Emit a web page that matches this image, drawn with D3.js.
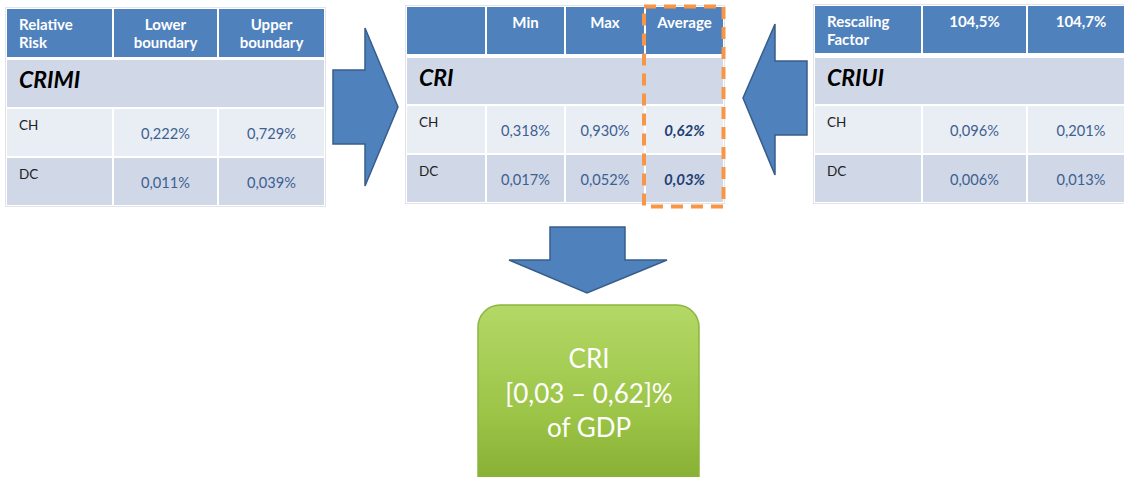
<!DOCTYPE html>
<html>
<head>
<meta charset="utf-8">
<script src="https://cdn.jsdelivr.net/npm/d3@7"></script>
<style>
  body { margin: 0; background: #fff; }
  svg { display: block; font-family: Lato, "Open Sans", sans-serif; }
</style>
</head>
<body>
<svg id="chart" width="1124" height="477"></svg>
<script>
// CRI scheme: two input tables feed a combined table, result box below

// row labels shared by the three tables
var rowLabels = ["CH", "DC"];

// CRIMI table (relative risk)
var crimiHeader = [["Relative", "Risk"], ["Lower", "boundary"], ["Upper", "boundary"]];
var crimiLower = [0.222, 0.011];
var crimiUpper = [0.729, 0.039];

// CRI table
var criHeader = [[""], ["Min"], ["Max"], ["Average"]];
var criMin = [0.318, 0.017];
var criMax = [0.930, 0.052];
var criAverage = [0.62, 0.03];

// CRIUI table (rescaling factor)
var criuiHeader = [["Rescaling", "Factor"], ["104,5%"], ["104,7%"]];
var criuiLow = [0.096, 0.006];
var criuiHigh = [0.201, 0.013];

// result box
var resultLines = ["CRI", "[0,03 \u2013 0,62]%", "of GDP"];

var locale = d3.formatLocale({decimal: ",", thousands: ".", grouping: [3], currency: ["", "\u20ac"]});
var f3 = locale.format(".3f"),
	f2 = locale.format(".2f");

var svg = d3.select("#chart");

var headBlue = "#4f81bd",
	rowDark = "#d0d8e8",
	rowLight = "#e9edf4",
	valueBlue = "#3d5f91",
	avgBlue = "#1f3f73";

// draws one table; cols = column widths, rows = row tops/heights
function drawTable(opt) {
	var g = svg.append("g");
	var xs = [opt.x];
	opt.cols.forEach(function(w, i) { xs.push(xs[i] + w + 2); });
	var width = xs[xs.length - 1] - 2 - opt.x;

	// faint outer frame
	g.append("rect")
		.attr("x", opt.x - 1.5).attr("y", opt.rows[0][0] - 1.5)
		.attr("width", width + 3)
		.attr("height", opt.rows[3][0] + opt.rows[3][1] - opt.rows[0][0] + 3)
		.attr("fill", "none").attr("stroke", "#e2e4e8").attr("stroke-width", 1);

	// header cells
	opt.cols.forEach(function(w, i) {
		g.append("rect")
			.attr("x", xs[i]).attr("y", opt.rows[0][0])
			.attr("width", w).attr("height", opt.rows[0][1])
			.attr("fill", headBlue);
		var t = g.append("text")
			.attr("fill", "#fff")
			.attr("font-weight", "bold")
			.attr("font-size", 15)
			.attr("text-anchor", i == 0 ? "start" : "middle");
		opt.header[i].forEach(function(line, k) {
			t.append("tspan")
				.attr("x", i == 0 ? xs[i] + 12 : xs[i] + w / 2)
				.attr("y", opt.rows[0][0] + 21 + k * 18)
				.text(line);
		});
	});

	// title row spans all columns
	g.append("rect")
		.attr("x", opt.x).attr("y", opt.rows[1][0])
		.attr("width", width).attr("height", opt.rows[1][1])
		.attr("fill", rowDark);
	g.append("text")
		.attr("x", opt.x + 12).attr("y", opt.rows[1][0] + 28)
		.attr("font-size", 23).attr("font-weight", "bold").attr("font-style", "italic")
		.attr("fill", "#000")
		.text(opt.title);

	// data rows
	rowLabels.forEach(function(lab, r) {
		var row = opt.rows[r + 2];
		opt.cols.forEach(function(w, i) {
			g.append("rect")
				.attr("x", xs[i]).attr("y", row[0])
				.attr("width", w).attr("height", row[1])
				.attr("fill", r == 0 ? rowLight : rowDark);
		});
		g.append("text")
			.attr("x", opt.x + 12).attr("y", row[0] + 21)
			.attr("font-size", 13.5).attr("fill", "#222")
			.text(lab);
		opt.values.forEach(function(col, c) {
			var i = c + 1;
			g.append("text")
				.attr("x", xs[i] + opt.cols[i] / 2).attr("y", row[0] + 30)
				.attr("text-anchor", "middle")
				.attr("font-size", col.bold ? 15 : 14.6)
				.attr("font-weight", col.bold ? "bold" : "normal")
				.attr("font-style", col.bold ? "italic" : "normal")
				.attr("fill", col.bold ? avgBlue : valueBlue)
				.text(col.fmt(col.data[r]) + "%");
		});
	});
	return xs;
}

drawTable({
	x: 7, cols: [105, 103, 105],
	rows: [[9, 48], [60, 47], [109, 47], [158, 47]],
	header: crimiHeader, title: "CRIMI",
	values: [{data: crimiLower, fmt: f3}, {data: crimiUpper, fmt: f3}]
});

var criX = drawTable({
	x: 407, cols: [78, 77, 78, 77],
	rows: [[7, 47], [58, 46], [106, 47], [155, 47]],
	header: criHeader, title: "CRI",
	values: [{data: criMin, fmt: f3}, {data: criMax, fmt: f3}, {data: criAverage, fmt: f2, bold: true}]
});

drawTable({
	x: 815, cols: [106, 103, 106],
	rows: [[6, 47], [58, 46], [106, 47], [155, 47]],
	header: criuiHeader, title: "CRIUI",
	values: [{data: criuiLow, fmt: f3}, {data: criuiHigh, fmt: f3}]
});

// orange dashed frame around the Average column
svg.append("rect")
	.attr("x", criX[3] - 2).attr("y", 6.5)
	.attr("width", 79.5).attr("height", 200)
	.attr("fill", "none")
	.attr("stroke", "#f79646")
	.attr("stroke-width", 4)
	.attr("stroke-dasharray", "12,8");

// block arrows
var arrows = [
	[[333, 70], [365, 70], [365, 28], [398, 107], [365, 186], [365, 144], [333, 144]],
	[[807, 61], [775, 61], [775, 24], [743, 98], [775, 175], [775, 135], [807, 135]],
	[[550, 227], [625, 227], [625, 260], [667, 260], [587, 293], [509, 260], [550, 260]]
];
svg.selectAll("path.arrow")
	.data(arrows)
	.enter().append("path")
	.attr("class", "arrow")
	.attr("d", function(d) { return d3.line()(d) + "Z"; })
	.attr("fill", headBlue)
	.attr("stroke", "#385d8a")
	.attr("stroke-width", 1.5)
	.attr("stroke-linejoin", "miter");

// green result box
var defs = svg.append("defs");
var grad = defs.append("linearGradient")
	.attr("id", "green").attr("x1", 0).attr("y1", 0).attr("x2", 0).attr("y2", 1);
grad.append("stop").attr("offset", "0%").attr("stop-color", "#b3d866");
grad.append("stop").attr("offset", "55%").attr("stop-color", "#9cc447");
grad.append("stop").attr("offset", "100%").attr("stop-color", "#7fa82c");

svg.append("rect")
	.attr("x", 478).attr("y", 305)
	.attr("width", 221).attr("height", 200)
	.attr("rx", 22)
	.attr("fill", "url(#green)")
	.attr("stroke", "#8db540")
	.attr("stroke-width", 1.5);

svg.append("text")
	.attr("text-anchor", "middle")
	.attr("fill", "#fff")
	.attr("font-size", 26)
	.selectAll("tspan")
	.data(resultLines)
	.enter().append("tspan")
	.attr("x", 589)
	.attr("y", function(d, i) { return 368 + i * 34.5; })
	.text(function(d) { return d; });
</script>
</body>
</html>
